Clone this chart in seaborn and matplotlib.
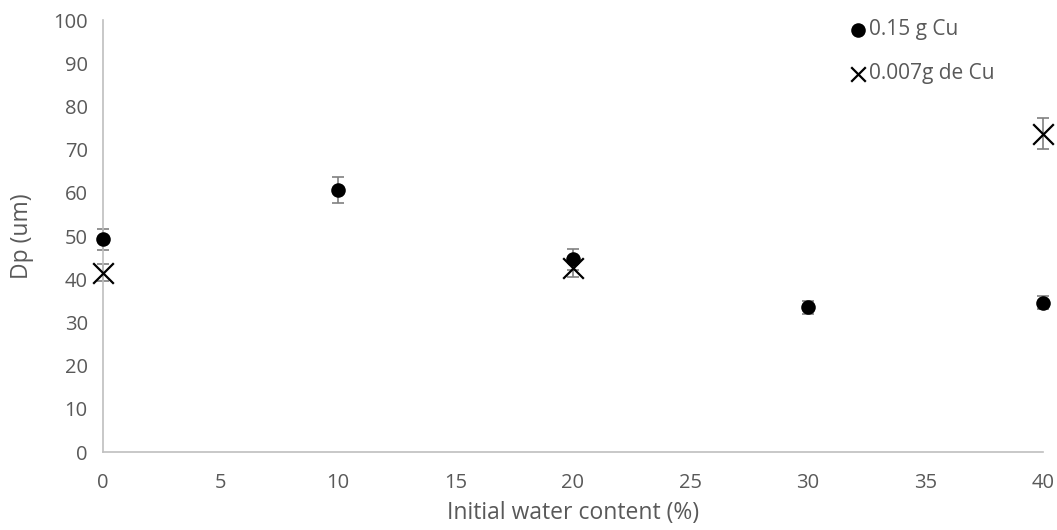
import matplotlib
matplotlib.use("Agg")
import matplotlib.pyplot as plt
import seaborn as sns
import pandas as pd

# Particle diameter vs. initial water content for two copper loadings
water_cu015 = [0, 10, 20, 30, 40]
dp_cu015 = [49.2, 60.6, 44.6, 33.5, 34.6]
err_cu015 = [2.5, 3.0, 2.5, 1.5, 1.5]

water_cu0007 = [0, 20, 40]
dp_cu0007 = [41.5, 42.6, 73.7]
err_cu0007 = [2.0, 2.0, 3.5]

label_cu015 = "0.15 g Cu"
label_cu0007 = "0.007g de Cu"

sns.set_theme(style="white")
plt.rcParams["font.family"] = ["Open Sans", "DejaVu Sans"]

df_a = pd.DataFrame({"water": water_cu015, "dp": dp_cu015})
df_b = pd.DataFrame({"water": water_cu0007, "dp": dp_cu0007})

W, H = 1057, 530
fig = plt.figure(figsize=(W / 100, H / 100), dpi=100)
ax = fig.add_axes([103 / W, (H - 452) / H, (1043 - 103) / W, (452 - 20) / H])

grey_err = "#808080"
for xs, ys, es in [(water_cu015, dp_cu015, err_cu015),
                   (water_cu0007, dp_cu0007, err_cu0007)]:
    eb = ax.errorbar(xs, ys, yerr=es, fmt="none", ecolor=grey_err,
                     elinewidth=1.2, capsize=4, capthick=1.2, zorder=2)
    for art in eb.lines[1] + eb.lines[2]:
        art.set_clip_on(False)

sns.scatterplot(data=df_a, x="water", y="dp", ax=ax, marker="o", s=110,
                color="black", edgecolor="black", linewidth=0, label=label_cu015,
                zorder=3, clip_on=False)
sns.scatterplot(data=df_b, x="water", y="dp", ax=ax, marker="x", s=220,
                color="black", linewidth=1.6, label=label_cu0007,
                zorder=3, clip_on=False)

ax.set_xlim(0, 40)
ax.set_ylim(0, 100)
ax.set_xticks(range(0, 41, 5))
ax.set_yticks(range(0, 101, 10))

text_grey = "#595959"
ax.tick_params(axis="both", colors=text_grey, labelsize=14.5, length=0)
ax.tick_params(axis="y", pad=11)
ax.tick_params(axis="x", pad=15)
ax.set_xlabel("Initial water content (%)", color=text_grey, fontsize=16.5, labelpad=6)
ax.set_ylabel("Dp (um)", color=text_grey, fontsize=16.5, labelpad=14)

for side in ["top", "right"]:
    ax.spines[side].set_visible(False)
for side in ["left", "bottom"]:
    ax.spines[side].set_color("#bfbfbf")
    ax.spines[side].set_linewidth(1.2)

leg = ax.legend(loc="upper left", bbox_to_anchor=(841 / W, 1 - 11 / H),
                bbox_transform=fig.transFigure, frameon=False,
                fontsize=15, handletextpad=0.15, labelspacing=1.1,
                handlelength=0.8, borderaxespad=0.0)
leg.legend_handles[1].set_sizes([110])
for t in leg.get_texts():
    t.set_color(text_grey)

fig.savefig("out.png", dpi=100)
